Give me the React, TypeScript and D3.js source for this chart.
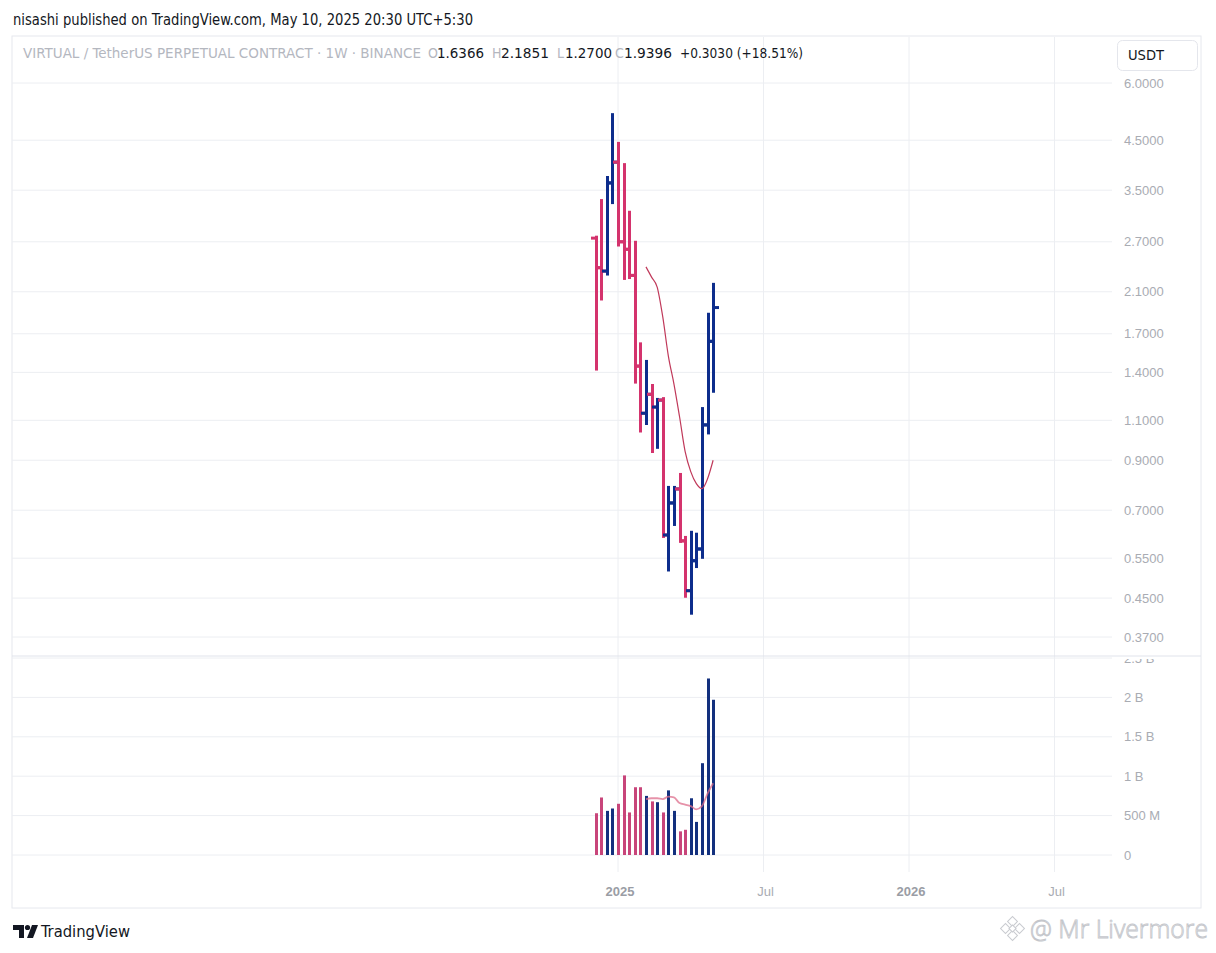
import * as d3 from "d3";

// weekly bars, VIRTUAL/USDT perp (Binance)
const weeks = [
  "2024-12-09", "2024-12-16", "2024-12-23", "2024-12-30", "2025-01-06", "2025-01-13",
  "2025-01-20", "2025-01-27", "2025-02-03", "2025-02-10", "2025-02-17", "2025-02-24",
  "2025-03-03", "2025-03-10", "2025-03-17", "2025-03-24", "2025-03-31", "2025-04-07",
  "2025-04-14", "2025-04-21", "2025-04-28", "2025-05-05"
];
const opens = [2.75, 2.37, 2.33, 3.63, 4.03, 2.7, 2.6, 2.28, 1.445, 1.14, 1.254, 1.176, 1.218, 0.618, 0.726, 0.779, 0.6, 0.467, 0.543, 0.576, 1.075, 1.6366];
const highs = [2.77, 3.33, 3.74, 5.13, 4.44, 3.99, 3.14, 2.7, 1.62, 1.483, 1.314, 1.225, 1.23, 0.787, 0.787, 0.84, 0.612, 0.628, 0.622, 1.17, 1.88, 2.1851];
const lows = [1.42, 2.02, 2.29, 3.28, 2.65, 2.24, 2.25, 1.33, 1.04, 1.08, 0.938, 0.958, 0.612, 0.517, 0.65, 0.597, 0.453, 0.416, 0.526, 0.551, 1.03, 1.27];
const closes = [2.37, 2.33, 3.63, 4.03, 2.7, 2.6, 2.28, 1.445, 1.14, 1.254, 1.176, 1.218, 0.618, 0.726, 0.779, 0.6, 0.467, 0.543, 0.576, 1.075, 1.6366, 1.9396];
const volumes = [0.53, 0.73, 0.56, 0.59, 0.65, 1.01, 0.54, 0.86, 0.86, 0.75, 0.68, 0.67, 0.54, 0.82, 0.56, 0.3, 0.32, 0.72, 0.42, 1.165, 2.24, 1.97]; // billions

// 10-week moving averages, starting at the 10th bar
const maStart = 9;
const priceMa = [2.38, 2.26, 2.15, 1.85, 1.52, 1.32, 1.12, 0.94, 0.85, 0.8, 0.78, 0.82, 0.9];
const volumeMa = [0.71, 0.72, 0.72, 0.71, 0.74, 0.73, 0.66, 0.64, 0.62, 0.58, 0.62, 0.78, 0.91];

const priceTicks = [6, 4.5, 3.5, 2.7, 2.1, 1.7, 1.4, 1.1, 0.9, 0.7, 0.55, 0.45, 0.37];
const volumeTicks = [0, 0.5, 1, 1.5, 2, 2.5];
const volumeTickLabels = ["0", "500 M", "1 B", "1.5 B", "2 B", "2.5 B"];
const timeTicks = [
  { date: "2025-01-06", label: "2025", major: true },
  { date: "2025-07-07", label: "Jul", major: false },
  { date: "2026-01-05", label: "2026", major: true },
  { date: "2026-07-06", label: "Jul", major: false }
];

const legendParts = [
  { text: "VIRTUAL / TetherUS PERPETUAL CONTRACT · 1W · BINANCE", x: 23, w: 398, dim: true },
  { text: "O", x: 428, w: 0, dim: true },
  { text: "1.6366", x: 437, w: 47, dim: false },
  { text: "H", x: 492, w: 0, dim: true },
  { text: "2.1851", x: 501, w: 48, dim: false },
  { text: "L", x: 557, w: 0, dim: true },
  { text: "1.2700", x: 565, w: 47, dim: false },
  { text: "C", x: 615, w: 0, dim: true },
  { text: "1.9396", x: 624, w: 48, dim: false },
  { text: "+0.3030 (+18.51%)", x: 680, w: 123, dim: false }
];

const upColor = "#0d2d8c";
const downColor = "#d4336d";
const upVolColor = "#13307e";
const downVolColor = "#c8457a";
const gridColor = "#eceef2";
const axisText = "#a9acb3";
const narrowFont = "'Liberation Sans Narrow', 'DejaVu Sans Condensed', 'Roboto', sans-serif";
const axisFont = "'Liberation Sans', 'Roboto', sans-serif";

const parseDay = d3.utcParse("%Y-%m-%d");

export default function App() {
  const width = 1216;
  const height = 953;
  const frame = { left: 12, right: 1201, top: 36, bottom: 908 };
  const plotRight = 1112;
  const pricePane = { top: frame.top, bottom: 656 };
  const volumePane = { top: 656, bottom: 872 };

  const x = d3
    .scaleUtc()
    .domain([parseDay("2025-01-06")!, parseDay("2026-01-05")!])
    .range([618, 909]);
  const y = d3.scaleLog().domain([0.37, 6]).range([637, 83]);
  const yVol = d3.scaleLinear().domain([0, 2.5]).range([855, 658]);

  const bars = weeks.map((week, i) => ({
    day: parseDay(week)!,
    open: opens[i],
    high: highs[i],
    low: lows[i],
    close: closes[i],
    volume: volumes[i]
  }));

  const maLine = d3
    .line<number>()
    .x((_, i) => x(bars[maStart + i].day))
    .y((v) => y(v))
    .curve(d3.curveMonotoneX);
  const volMaLine = d3
    .line<number>()
    .x((_, i) => x(bars[maStart + i].day))
    .y((v) => yVol(v))
    .curve(d3.curveMonotoneX);

  return (
    <div style={{ position: "absolute", left: 0, top: 0, background: "#fff" }}>
      <svg width={width} height={height} viewBox={`0 0 ${width} ${height}`} style={{ display: "block" }}>
        <defs>
          <clipPath id="price-clip">
            <rect x={frame.left} y={pricePane.top} width={frame.right - frame.left} height={pricePane.bottom - pricePane.top} />
          </clipPath>
          <clipPath id="volume-clip">
            <rect x={frame.left} y={volumePane.top + 1} width={frame.right - frame.left} height={volumePane.bottom - volumePane.top} />
          </clipPath>
          <clipPath id="volume-label-clip">
            <rect x={plotRight} y={volumePane.top + 3} width={frame.right - plotRight} height={volumePane.bottom - volumePane.top} />
          </clipPath>
        </defs>
        <rect x="0" y="0" width={width} height={height} fill="#fff" />

        <text x="13" y="25" fontFamily={narrowFont} fontSize="15" fill="#131722" textLength="460" lengthAdjust="spacingAndGlyphs">
          nisashi published on TradingView.com, May 10, 2025 20:30 UTC+5:30
        </text>

        <rect x={frame.left} y={frame.top} width={frame.right - frame.left} height={frame.bottom - frame.top} fill="none" stroke="#e6e8ee" />

        {/* vertical time grid */}
        {timeTicks.map((tick) => (
          <line
            key={tick.date + tick.label}
            x1={x(parseDay(tick.date)!)}
            x2={x(parseDay(tick.date)!)}
            y1={frame.top + 1}
            y2={volumePane.bottom}
            stroke={gridColor}
          />
        ))}

        {/* price grid + labels */}
        {priceTicks.map((tick) => (
          <g key={tick}>
            <line x1={frame.left} x2={plotRight} y1={y(tick)} y2={y(tick)} stroke={gridColor} />
            <text x="1124" y={y(tick) + 4.5} fontFamily={axisFont} fontSize="13" fill={axisText}>
              {tick.toFixed(4)}
            </text>
          </g>
        ))}

        <line x1={frame.left} x2={frame.right} y1={pricePane.bottom} y2={pricePane.bottom} stroke="#e0e3eb" />

        {/* volume grid + labels */}
        <g clipPath="url(#volume-clip)">
          {volumeTicks.map((tick) => (
            <line key={tick} x1={frame.left} x2={plotRight} y1={yVol(tick)} y2={yVol(tick)} stroke={gridColor} />
          ))}
        </g>
        <g clipPath="url(#volume-label-clip)">
          {volumeTicks.map((tick, i) => (
            <text key={tick} x="1124" y={yVol(tick) + 4.5} fontFamily={axisFont} fontSize="13" fill={axisText}>
              {volumeTickLabels[i]}
            </text>
          ))}
        </g>

        {/* OHLC bars */}
        <g clipPath="url(#price-clip)">
          {bars.map((bar) => {
            const cx = Math.round(x(bar.day)) + 0.5;
            const color = bar.close >= bar.open ? upColor : downColor;
            return (
              <g key={bar.day.toISOString()} stroke={color} strokeWidth="3">
                <line x1={cx} x2={cx} y1={y(bar.high) - 1} y2={y(bar.low) + 1} />
                <line x1={cx - 5.5} x2={cx} y1={y(bar.open)} y2={y(bar.open)} strokeWidth="3" />
                <line x1={cx} x2={cx + 5.5} y1={y(bar.close)} y2={y(bar.close)} strokeWidth="3" />
              </g>
            );
          })}
          <path d={maLine(priceMa) ?? undefined} fill="none" stroke="#c0395a" strokeWidth="1.2" />
        </g>

        {/* volume */}
        <g clipPath="url(#volume-clip)">
          {bars.map((bar) => {
            const cx = Math.round(x(bar.day)) + 0.5;
            return (
              <rect
                key={bar.day.toISOString()}
                x={cx - 1.5}
                y={yVol(bar.volume)}
                width="3"
                height={yVol(0) - yVol(bar.volume)}
                fill={bar.close >= bar.open ? upVolColor : downVolColor}
              />
            );
          })}
          <path d={volMaLine(volumeMa) ?? undefined} fill="none" stroke="rgba(222, 110, 140, 0.75)" strokeWidth="1.8" />
        </g>

        {/* time labels */}
        {timeTicks.map((tick) => (
          <text
            key={"l" + tick.date}
            x={x(parseDay(tick.date)!) + 2}
            y="896"
            textAnchor="middle"
            fontFamily={axisFont}
            fontSize="13"
            fontWeight={tick.major ? "bold" : "normal"}
            fill={tick.major ? "#9a9da5" : axisText}
          >
            {tick.label}
          </text>
        ))}

        {/* legend */}
        {legendParts.map((part) => (
          <text
            key={part.text + part.x}
            x={part.x}
            y="58"
            fontFamily={narrowFont}
            fontSize="14"
            fill={part.dim ? "#b4b7bf" : "#131722"}
            textLength={part.w || undefined}
            lengthAdjust="spacingAndGlyphs"
          >
            {part.text}
          </text>
        ))}

        {/* currency button */}
        <rect x="1117.5" y="40.5" width="80" height="30" rx="5" fill="#fff" stroke="#e4e6ec" />
        <text x="1128" y="60" fontFamily={narrowFont} fontSize="14" fill="#131722" textLength="36" lengthAdjust="spacingAndGlyphs">
          USDT
        </text>

        {/* TradingView logo */}
        <g fill="#131722">
          <path d="M13 925 H24 V938 H19 V930 H13 Z" />
          <circle cx="27.5" cy="927.5" r="2.6" />
          <path d="M32 925 H38 L33 938 H27 Z" />
        </g>
        <text x="41" y="937" fontFamily={narrowFont} fontSize="16" fill="#131722" textLength="89" lengthAdjust="spacingAndGlyphs">
          TradingView
        </text>

        {/* watermark */}
        <g fill="#fff" stroke="#c9cbd0" strokeWidth="1">
          <rect x="1009" y="918" width="7" height="7" transform="rotate(45 1012.5 921.5)" />
          <rect x="1009" y="932" width="7" height="7" transform="rotate(45 1012.5 935.5)" />
          <rect x="1002" y="925" width="7" height="7" transform="rotate(45 1005.5 928.5)" />
          <rect x="1016" y="925" width="7" height="7" transform="rotate(45 1019.5 928.5)" />
          <rect x="1010" y="926" width="5" height="5" transform="rotate(45 1012.5 928.5)" />
        </g>
        <text
          x="1030"
          y="938"
          fontFamily="'Open Sans', sans-serif"
          fontSize="26"
          fontWeight="300"
          fill="#fff"
          stroke="#c4c6cb"
          strokeWidth="0.9"
          textLength="178"
          lengthAdjust="spacingAndGlyphs"
        >
          @ Mr Livermore
        </text>
      </svg>
    </div>
  );
}
